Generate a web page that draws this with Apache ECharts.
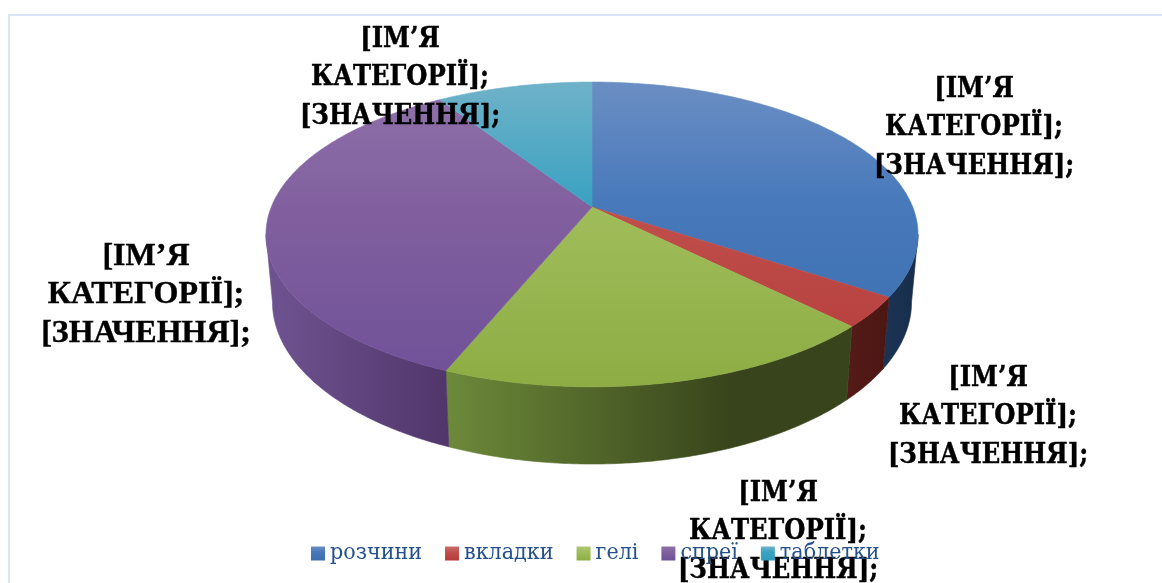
<!DOCTYPE html>
<html><head><meta charset="utf-8">
<style>html,body{margin:0;padding:0;background:#fff}#c{width:1162px;height:583px}</style>
<script src="https://cdn.jsdelivr.net/npm/echarts@6/dist/echarts.min.js"></script>
</head><body><div id="c"></div>
<script>
const categories = ['розчини','вкладки','гелі','спреї','таблетки'];
const shares = [34.3, 3.2, 18.7, 34.6, 9.2];
const labelText = '[ІМ’Я\nКАТЕГОРІЇ];\n[ЗНАЧЕННЯ];';

const topColors = [['#6b8ec3','#4779bb','#3b6eac'],['#cb6f6c','#c04f4c','#b43c39'],['#aec873','#a0bd5b','#8dad44'],['#8f72aa','#82609f','#6f5098'],['#6fb2c9','#3aa2c1','#2f9cbb']];
const wallColors = [['#1b3556','#182c4a'],['#551b18','#4b1613'],['#6d8a3a','#38441b'],['#6e5391','#50366a'],['#2a7a90','#1f5c6c']];
const wallStops = [[880,920],[845,890],[445,730],[270,448],[270,448]];

const cx = 592, rTop = 320.7, rBottom = 314.3, persp = 0.18;
const yBackTop = 207, slopeTop = -110.2, yBackBottom = 273, slopeBottom = -107.5;
const total = shares.reduce((a,b)=>a+b,0);
const side = Math.acos(-persp);

function proj(t, r, a, b){
  const s = Math.sin(t), v = Math.cos(t), d = 1 + persp*v;
  return [cx + r*s/d, (a + b*v)/d];
}
function stops(c){
  return c.length===3 ? [{offset:0,color:c[0]},{offset:0.4,color:c[1]},{offset:1,color:c[2]}]
                      : [{offset:0,color:c[0]},{offset:1,color:c[1]}];
}
function grad(x0,y0,x1,y1,c,global){
  return new echarts.graphic.LinearGradient(x0,y0,x1,y1,stops(c),global);
}
function arcPts(t0,t1,r,a,b){
  const n = Math.max(2,Math.ceil((t1-t0)/0.01)), out=[];
  for(let i=0;i<=n;i++) out.push(proj(t0+(t1-t0)*i/n,r,a,b));
  return out;
}
function renderSlice(params, api){
  const i = params.seriesIndex, val = api.value(0);
  const before = shares.slice(0,i).reduce((a,b)=>a+b,0);
  const t0 = before/total*2*Math.PI, t1 = (before+val)/total*2*Math.PI;
  const children = [];
  const a = Math.max(t0,side), b = Math.min(t1,2*Math.PI-side);
  if(b>a){
    const up = arcPts(a,b,rTop,yBackTop,slopeTop);
    const low = arcPts(a,b,rBottom,yBackBottom,slopeBottom).reverse();
    const f = grad(wallStops[i][0],0,wallStops[i][1],0,wallColors[i],true);
    children.push({type:'polygon',z2:1,shape:{points:up.concat(low)},style:{fill:f,stroke:f,lineWidth:0.6}});
  }
  const apex = [cx,yBackTop];
  const pts = [apex].concat(arcPts(t0,t1,rTop,yBackTop,slopeTop));
  const g = grad(0,82,0,387,topColors[i],true);
  children.push({type:'polygon',z2:2,shape:{points:pts},style:{fill:g,stroke:g,lineWidth:0.6}});
  return {type:'group',children};
}
const series = categories.map((name,i)=>({
  type:'custom', name, coordinateSystem:'none', renderItem:renderSlice, silent:true, z:2,
  itemStyle:{color:grad(0,0,0,1,topColors[i],false)},
  data:[[shares[i]]]
}));
const serifFont = '"DejaVu Serif Condensed","DejaVu Serif",serif';
const label = (x,y,font)=>({type:'text',x,y,z:3,silent:true,style:{
  fill:'#000',stroke:'#000',lineWidth:0.4,font:font||('bold 27px '+serifFont),
  align:'center',verticalAlign:'middle',lineHeight:38.5,text:labelText}});

const chart = echarts.init(document.getElementById('c'),null,{renderer:'canvas'});
chart.setOption({
  animation:false,
  backgroundColor:'#fff',
  legend:{left:311,top:542,padding:0,itemWidth:14,itemHeight:14,itemGap:23,icon:'rect',z:5,
    textStyle:{color:'#24508c',fontSize:23,fontFamily:serifFont},
    data:categories},
  graphic:[
    {type:'rect',z:0,silent:true,shape:{x:9,y:15,width:1300,height:700},style:{fill:'none',stroke:'#d9e5f5',lineWidth:2}},
    label(400,78),label(974,128),label(988,417),label(778,532),
    label(146,295,'bold 32px "Liberation Serif",serif')
  ],
  series
});
</script></body></html>
